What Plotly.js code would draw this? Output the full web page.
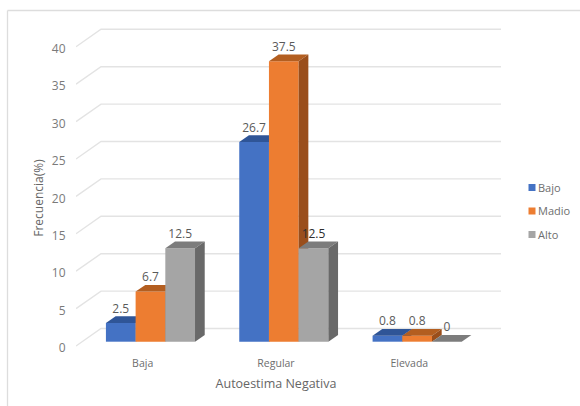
<!DOCTYPE html>
<html>
<head>
<meta charset="utf-8">
<script src="https://cdn.plot.ly/plotly-3.0.1.min.js"></script>
<style>html,body{margin:0;padding:0;background:#fff}#chart{width:580px;height:406px}</style>
</head>
<body>
<div id="chart"></div>
<script>
// Frecuencia por nivel de autoestima negativa
const categories = ['Baja', 'Regular', 'Elevada'];
const bajo = [2.5, 26.7, 0.8];
const madio = [6.7, 37.5, 0.8];
const alto = [12.5, 12.5, 0];
const seriesNames = ['Bajo', 'Madio', 'Alto'];
const frontColors = ['#4472C4', '#ED7D31', '#A5A5A5'];
const topColors = ['#2F5597', '#B35E20', '#7C7C7C'];
const sideColors = ['#2F5597', '#9A4E1B', '#696969'];
const yTicks = [0, 5, 10, 15, 20, 25, 30, 35, 40];

// Oblique projection of the 3-D look, in axis units
const PX_X = 400 / 3, PX_Y = 7.48;
const wallDX = 25 / PX_X, wallDY = 17.5 / PX_Y;
const barDX = 9.7 / PX_X, barDY = 6.7 / PX_Y;
const floorY = 4.3 / PX_Y;
const shiftX = 7.8 / PX_X;
const barW = 29.7 / PX_X;
const FONT = '"Open Sans", sans-serif';

// Plot box in page pixels, and conversions to paper coordinates
const BOX = {l: 76, r: 501, t: 25, b: 352};
const paperX = px => (px - BOX.l) / (BOX.r - BOX.l);
const paperY = px => (BOX.b - px) / (BOX.b - BOX.t);

const traces = [];

// Gridlines: slanted on the side wall, then straight along the back wall
yTicks.forEach(t => traces.push({
  type: 'scatter', mode: 'lines', zorder: 0,
  x: [-0.5, -0.5 + wallDX, 2.5 + wallDX],
  y: [t, t + wallDY, t + wallDY],
  line: {color: '#E3E3E3', width: 1.4},
  hoverinfo: 'skip', showlegend: false
}));

[bajo, madio, alto].forEach((vals, s) => {
  const xs = vals.map((_, c) => c + shiftX + (s - 1) * barW);
  const z = s + 1;
  // Front faces
  traces.push({
    type: 'bar', x: xs, y: vals, base: vals.map(() => floorY), width: barW,
    marker: {color: frontColors[s], line: {width: 0}}, zorder: z,
    showlegend: false, hoverinfo: 'skip'
  });
  vals.forEach((v, c) => {
    const l = xs[c] - barW / 2, r = xs[c] + barW / 2, top = v + floorY;
    // Top face
    traces.push({
      type: 'scatter', mode: 'lines', fill: 'toself', fillcolor: topColors[s], zorder: z,
      x: [l, r, r + barDX, l + barDX, l], y: [top, top, top + barDY, top + barDY, top],
      line: {width: 0, color: topColors[s]}, hoverinfo: 'skip', showlegend: false
    });
    // Side face
    if (v > 0) traces.push({
      type: 'scatter', mode: 'lines', fill: 'toself', fillcolor: sideColors[s], zorder: z,
      x: [r, r + barDX, r + barDX, r, r], y: [floorY, floorY + barDY, top + barDY, top, floorY],
      line: {width: 0, color: sideColors[s]}, hoverinfo: 'skip', showlegend: false
    });
  });
  // Value labels above each bar; the one crossing a dark side face is darker
  traces.push({
    type: 'scatter', mode: 'text', zorder: 5,
    x: xs, y: vals.map(v => v + floorY + barDY + 6.7 / PX_Y),
    text: vals.map(String), textposition: 'middle center',
    textfont: {family: FONT, size: 12, color: vals.map((_, c) => (s === 2 && c === 1) ? '#2E2E2E' : '#5A5A5A')},
    hoverinfo: 'skip', showlegend: false
  });
  // Legend key
  traces.push({
    type: 'scatter', mode: 'markers', name: seriesNames[s], legendgroup: seriesNames[s],
    x: [null], y: [null], marker: {symbol: 'square', size: 7, color: frontColors[s]}
  });
});

const frameLine = {color: '#DDDDDD', width: 1.3};

const layout = {
  width: 580, height: 406,
  margin: {l: BOX.l, r: 580 - BOX.r, t: BOX.t, b: 406 - BOX.b, pad: 0, autoexpand: false},
  paper_bgcolor: '#fff', plot_bgcolor: 'rgba(0,0,0,0)',
  barmode: 'overlay',
  font: {family: FONT, size: 11, color: '#6E6E6E'},
  showlegend: true,
  legend: {
    x: paperX(498), xanchor: 'left', y: paperY(173), yanchor: 'top',
    tracegroupgap: 4.5, bgcolor: 'rgba(0,0,0,0)', borderwidth: 0,
    font: {family: FONT, size: 11, color: '#6E6E6E'}
  },
  xaxis: {
    range: [-0.5, 2.5 + wallDX], tickmode: 'array', tickvals: [0, 1, 2], ticktext: categories,
    showgrid: false, zeroline: false, showline: false, fixedrange: true,
    ticks: 'outside', ticklen: 1, tickcolor: 'rgba(0,0,0,0)',
    tickfont: {family: FONT, size: 10.5, color: '#6E6E6E'},
    title: {text: 'Autoestima Negativa', standoff: 10, font: {family: FONT, size: 12.5, color: '#666666'}}
  },
  yaxis: {
    range: [-6 / PX_Y, 321 / PX_Y], tickmode: 'array', tickvals: yTicks,
    showgrid: false, zeroline: false, showline: false,
    ticks: 'outside', ticklen: 8, tickcolor: 'rgba(0,0,0,0)', fixedrange: true,
    tickfont: {family: FONT, size: 12, color: '#7A7A7A'},
    title: {text: 'Frecuencia(%)', standoff: 8, font: {family: FONT, size: 12, color: '#666666'}}
  },
  // Panel frame along the top and left edges
  shapes: [
    {type: 'line', xref: 'paper', yref: 'paper', line: frameLine,
     x0: paperX(7.5), x1: paperX(580), y0: paperY(10.5), y1: paperY(10.5)},
    {type: 'line', xref: 'paper', yref: 'paper', line: frameLine,
     x0: paperX(7.5), x1: paperX(7.5), y0: paperY(10.5), y1: paperY(406)}
  ]
};

Plotly.newPlot('chart', traces, layout, {displayModeBar: false, staticPlot: true}).then(gd => {
  // Tighten the gap between each legend key and its label
  gd.querySelectorAll('.legend .legendpoints').forEach(el => {
    el.setAttribute('transform', 'translate(14,0)');
  });
  // Settle axis titles and value-axis labels on the front plane of the chart
  const nudge = (sel, dx, dy) => {
    const el = gd.querySelector(sel);
    if (el) el.setAttribute('transform', `translate(${dx},${dy}) ` + (el.getAttribute('transform') || ''));
  };
  nudge('.xtitle', -12.5, 0);
  nudge('.ytitle', 4, 9.5);
  nudge('.yaxislayer-above', 1, 2);
});
</script>
</body>
</html>
